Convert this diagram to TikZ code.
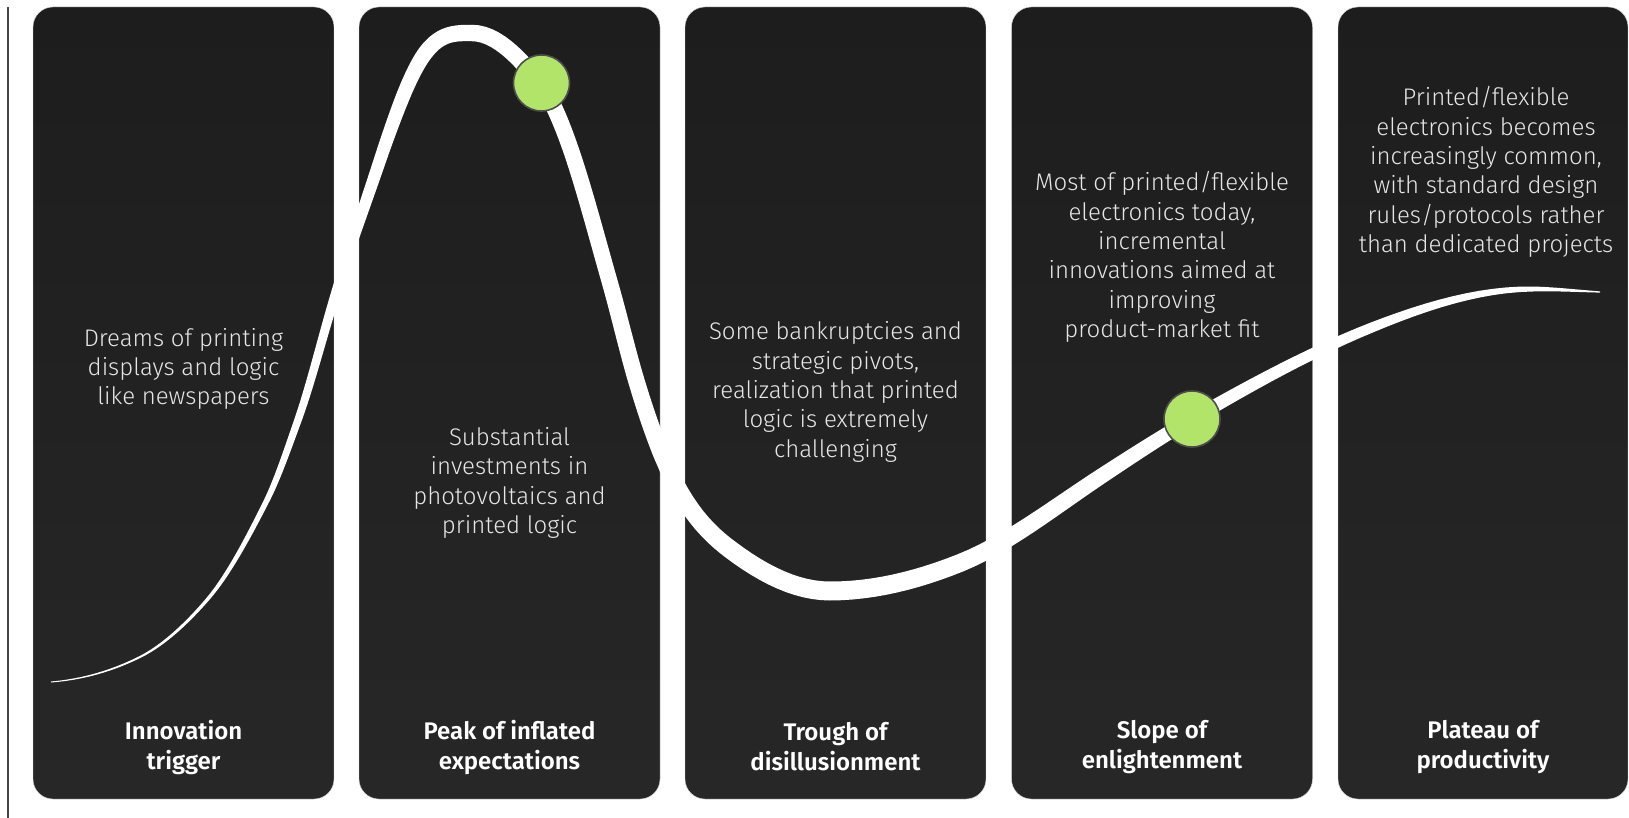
\documentclass[tikz,border=0pt]{standalone}
\usepackage{fontspec}
\setmainfont{Fira Sans}
\newfontfamily\lightfont{Fira Sans Light}
\newfontfamily\headfont{Fira Sans SemiBold}
\usetikzlibrary{calc}
\definecolor{panelA}{HTML}{1D1D1D}
\definecolor{panelB}{HTML}{272727}
\definecolor{dotfill}{HTML}{B2E46A}
\definecolor{dotline}{HTML}{4E4E4E}
\definecolor{desctext}{HTML}{E6E6E6}
\definecolor{rulegray}{HTML}{444444}
\tikzset{
  panel/.style={rectangle, rounded corners=20pt, minimum width=301pt, minimum height=792pt,
    top color=panelA, bottom color=panelB, draw=black!15, line width=0.4pt, inner sep=0pt},
  desc/.style={text=desctext, align=center, font=\lightfont\fontsize{24}{29.3}\selectfont, inner sep=0pt},
  head/.style={text=white, align=center, font=\headfont\fontsize{24}{30}\selectfont, inner sep=0pt},
  dot/.style={circle, minimum size=56pt, inner sep=0pt, fill=dotfill, draw=dotline, line width=1.6pt},
  hype/.style={fill=white}
}
\begin{document}
\begin{tikzpicture}[x=1pt,y=-1pt]
\useasboundingbox (0,0) rectangle (1629,818);
\fill[white] (0,0) rectangle (1629,818);
\coordinate (rtop) at (8,7);
\coordinate (rbot) at (8,818);
\draw[rulegray, line width=1.5pt] (rtop) -- (rbot);

\node[panel] (p1) at (183.5,403) {};
\node[panel] (p2) at (509.5,403) {};
\node[panel] (p3) at (835.5,403) {};
\node[panel] (p4) at (1162,403) {};
\node[panel, minimum width=290pt] (p5) at (1483,403) {};

% hype curve: centre line as cubic pieces, sampled, offset by a tapering half-width
\foreach \gi/\pax/\pay/\pbx/\pby/\pcx/\pcy/\pdx/\pdy/\wa/\wb in {
  1/51/682/80.7/679.6/110.3/671.8/140/657/1.0/2.0,
  2/140/657/162.3/645.8/184.7/625.7/207/600/2.0/3.4,
  3/207/600/227/577/247/540/267/500/3.4/5.6,
  4/267/500/277.3/479.3/287.7/448.9/298/420/5.6/7.5,
  5/298/420/310/386.4/322/338.6/334/299/7.5/9.5,
  6/334/299/349.3/248.4/364.7/206/380/160/9.5/12.5,
  7/380/160/386.7/140/393.3/121.3/400/104/12.5/14,
  8/400/104/408.7/81.5/417.3/63.3/426/52/14/15.5,
  9/426/52/441.3/32.1/456.7/33/472/33/15.5/16.5,
  10/472/33/495/33/518/55.1/541/85/16.5/16.5,
  11/541/85/551/98/561/121/571/150/16.5/16,
  12/571/150/584/187.7/597/237.5/610/283/16/16,
  13/610/283/619/314.5/628/353.3/637/383/16/16.5,
  14/637/383/645.3/410.5/653.7/435/662/455/16.5/17,
  15/662/455/685/510.2/708/532.75/731/550/17/18.5,
  16/731/550/764/574.75/797/591/830/591/18.5/19,
  17/830/591/873.3/591/916.7/580.3/960/563/19/18,
  18/960/563/1006.7/544.3/1053.3/507.8/1100/477/18/15.5,
  19/1100/477/1130.7/456.8/1161.3/436.8/1192/419/15.5/13.5,
  20/1192/419/1252.3/384/1312.7/351.1/1373/327/13.5/10,
  21/1373/327/1426.3/305.7/1479.7/289/1533/289/10/5,
  22/1533/289/1555.3/289/1577.7/290.9/1600/292/5/1.2}
{
  \foreach \k in {0,...,12}{
    \pgfmathsetmacro\tpos{\k/12}
    \pgfmathsetmacro\tqq{\k<12 ? \tpos+0.01 : \tpos-0.01}
    \pgfmathsetmacro\ra{\k<12 ? 90 : -90}
    \pgfmathsetmacro\rb{\k<12 ? -90 : 90}
    \pgfmathsetmacro\ww{0.5*(\wa+(\wb-\wa)*\k/12)}
    \pgfmathtruncatemacro\n{(\gi-1)*12+\k}
    \path (\pax,\pay) .. controls (\pbx,\pby) and (\pcx,\pcy) .. (\pdx,\pdy)
      coordinate[pos=\tpos] (P) coordinate[pos=\tqq] (Q);
    \coordinate (u\n) at ($(P)!\ww pt!\ra:(Q)$);
    \coordinate (l\n) at ($(P)!\ww pt!\rb:(Q)$);
  }
}
\fill[hype] (u0) \foreach \n in {1,...,264}{ -- (u\n) }
  -- (l264) \foreach \n in {263,...,0}{ -- (l\n) } -- cycle;

\node[dot] (d1) at (541.5,83) {};
\node[dot] (d2) at (1192,419) {};

\node[desc] (t1) at (183.5,369) {Dreams of printing\\displays and logic\\like newspapers};
\node[desc] (t2) at (509.5,483) {Substantial\\investments in\\photovoltaics and\\printed logic};
\node[desc] (t3) at (835.5,392) {Some bankruptcies and\\strategic pivots,\\realization that printed\\logic is extremely\\challenging};
\node[desc] (t4) at (1162,257) {Most of printed/flexible\\electronics today,\\incremental\\innovations aimed at\\improving\\product-market fit};
\node[desc] (t5) at (1486,172) {Printed/flexible\\electronics becomes\\increasingly common,\\with standard design\\rules/protocols rather\\than dedicated projects};

\node[head] (h1) at (183.5,747) {Innovation\\trigger};
\node[head] (h2) at (509.5,747) {Peak of inflated\\expectations};
\node[head] (h3) at (835.5,747) {Trough of\\disillusionment};
\node[head] (h4) at (1162,747) {Slope of\\enlightenment};
\node[head] (h5) at (1483,747) {Plateau of\\productivity};
\end{tikzpicture}
\end{document}
